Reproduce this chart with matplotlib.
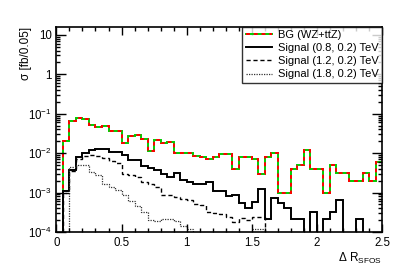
import numpy as np
import matplotlib
matplotlib.use("Agg")
import matplotlib.pyplot as plt
from matplotlib.lines import Line2D
from matplotlib.ticker import FixedLocator, FuncFormatter, MultipleLocator, LogLocator, NullFormatter

plt.rcParams['font.family'] = ['Liberation Sans', 'DejaVu Sans']
plt.rcParams['mathtext.fontset'] = 'custom'
plt.rcParams['mathtext.rm'] = 'Liberation Sans'
plt.rcParams['mathtext.it'] = 'Liberation Sans:italic'

# bin edges: 50 bins of 0.05 in Delta R
edges = np.linspace(0, 2.5, 51)

bg = [0, 0.020, 0.067, 0.080, 0.074, 0.052, 0.045, 0.049, 0.037, 0.037,
      0.018, 0.028, 0.0295, 0.023, 0.0116, 0.021, 0.018, 0.0196, 0.010, 0.010,
      0.0099, 0.0087, 0.0079, 0.0070, 0.0082, 0.0094, 0.0094, 0.0039, 0.0082, 0.0082,
      0.0070, 0.0030, 0.0082, 0.0099, 0.0010, 0.0010, 0.0040, 0.0050, 0.012, 0.0040,
      0.0040, 0.0010, 0.0050, 0.0031, 0.0031, 0.0020, 0.0020, 0.0031, 0.0020, 0.0061]

sig_08 = [0, 0.0011, 0.0038, 0.0080, 0.0100, 0.0120, 0.0125, 0.0125, 0.0105, 0.0105,
          0.0090, 0.0068, 0.0066, 0.0048, 0.0043, 0.0038, 0.0030, 0.0025, 0.0032, 0.0021,
          0.0019, 0.0017, 0.0017, 0.0019, 0.0011, 0.0011, 0.00081, 0.00087, 0.00053, 0.00040,
          0.00058, 0.00125, 0.00022, 0.00074, 0.00053, 0.00040, 0.00022, 0.00022, 0, 0.00033,
          0, 0.00022, 0.00033, 0.00065, 0, 0, 0.00022, 0, 0, 0]

sig_12 = [0, 0.0010, 0.0035, 0.0070, 0.0085, 0.0090, 0.0085, 0.0075, 0.0065, 0.0055,
          0.0030, 0.0028, 0.0025, 0.0019, 0.0017, 0.0014, 0.00085, 0.00085, 0.00078, 0.00070,
          0.00065, 0.00050, 0.00048, 0.00033, 0.00030, 0.00029, 0.00024, 0.00018, 0.00023, 0.00020,
          0.00024, 0.00024, 0, 0, 0, 0, 0, 0, 0, 0,
          0, 0, 0, 0, 0, 0, 0, 0, 0, 0]

sig_18 = [0, 0, 0.0045, 0.0050, 0.0050, 0.0034, 0.0028, 0.0017, 0.0014, 0.00115,
          0.00087, 0.00060, 0.00045, 0.00032, 0.00020, 0.00019, 0.00022, 0.00021, 0.00019, 0.00014,
          0.00012, 0, 0, 0, 0, 0, 0, 0, 0, 0,
          0.00012, 0.00012, 0, 0, 0, 0, 0, 0, 0, 0,
          0, 0, 0, 0, 0, 0, 0, 0, 0, 0]

labels = ["BG (WZ+ttZ)", "Signal (0.8, 0.2) TeV", "Signal (1.2, 0.2) TeV", "Signal (1.8, 0.2) TeV"]


def clip(v):
    # zero bins are drawn below the frame, like ROOT does
    return np.clip(np.array(v, dtype=float), 1e-7, None)


fig = plt.figure(figsize=(4.03, 2.73), dpi=100)
ax = fig.add_axes([0.140, 0.150, 0.808, 0.752])

ax.stairs(clip(bg), edges, baseline=None, color='#00cc00', lw=1.4)
ax.stairs(clip(bg), edges, baseline=None, color='red', lw=1.4, linestyle=(0, (2, 2)))
ax.stairs(clip(sig_08), edges, baseline=None, color='black', lw=1.4)
ax.stairs(clip(sig_12), edges, baseline=None, color='black', lw=1.0, linestyle=(0, (3, 2)))
ax.stairs(clip(sig_18), edges, baseline=None, color='#333333', lw=0.9, linestyle=(0, (1, 1)))

ax.set_yscale('log')
ax.set_xlim(0, 2.5)
ax.set_ylim(1e-4, 16)

ax.xaxis.set_major_locator(MultipleLocator(0.5))
ax.xaxis.set_minor_locator(MultipleLocator(0.1))
ax.xaxis.set_major_formatter(FuncFormatter(lambda v, p: '%g' % v))
ax.yaxis.set_major_locator(FixedLocator([1e-4, 1e-3, 1e-2, 1e-1, 1, 10]))
ax.yaxis.set_minor_locator(LogLocator(base=10, subs=np.arange(2, 10)))
ax.yaxis.set_minor_formatter(NullFormatter())


def ylab(v, p):
    if v >= 10:
        return '10'
    if v >= 1:
        return '1'
    return r'$10^{%d}$' % round(np.log10(v))


ax.yaxis.set_major_formatter(FuncFormatter(ylab))
ax.tick_params(which='both', direction='in', top=True, right=True, labelsize=8.3, width=1.0)
ax.tick_params(which='major', length=6)
ax.tick_params(which='minor', length=3)
ax.tick_params(axis='y', which='major', length=7)
for s in ax.spines.values():
    s.set_linewidth(1.2)

ax.set_ylabel(u'\u03c3 [fb/0.05]', loc='top', fontsize=8.5)
ax.yaxis.set_label_coords(-0.075, 1.0)
ax.set_xlabel(r'$\Delta$ R$_{\mathrm{SFOS}}$', loc='right', fontsize=8.5)
ax.xaxis.set_label_coords(1.0, -0.09)

# legend proxies
h_bg = (Line2D([], [], color='#00cc00', lw=1.4), Line2D([], [], color='red', lw=1.4, linestyle=(0, (2, 2))))
h1 = Line2D([], [], color='black', lw=1.4)
h2 = Line2D([], [], color='black', lw=1.0, linestyle=(0, (3, 2)))
h3 = Line2D([], [], color='#333333', lw=0.9, linestyle=(0, (1, 1)))
leg = ax.legend([h_bg, h1, h2, h3], labels, loc='upper right', bbox_to_anchor=(1.0, 1.0),
                borderaxespad=0, fontsize=8, frameon=True, fancybox=False,
                handlelength=2.4, handletextpad=0.5, labelspacing=0.28, borderpad=0.3)
leg.get_frame().set_edgecolor('black')
leg.get_frame().set_linewidth(1.0)

fig.savefig('out.png', dpi=100)
